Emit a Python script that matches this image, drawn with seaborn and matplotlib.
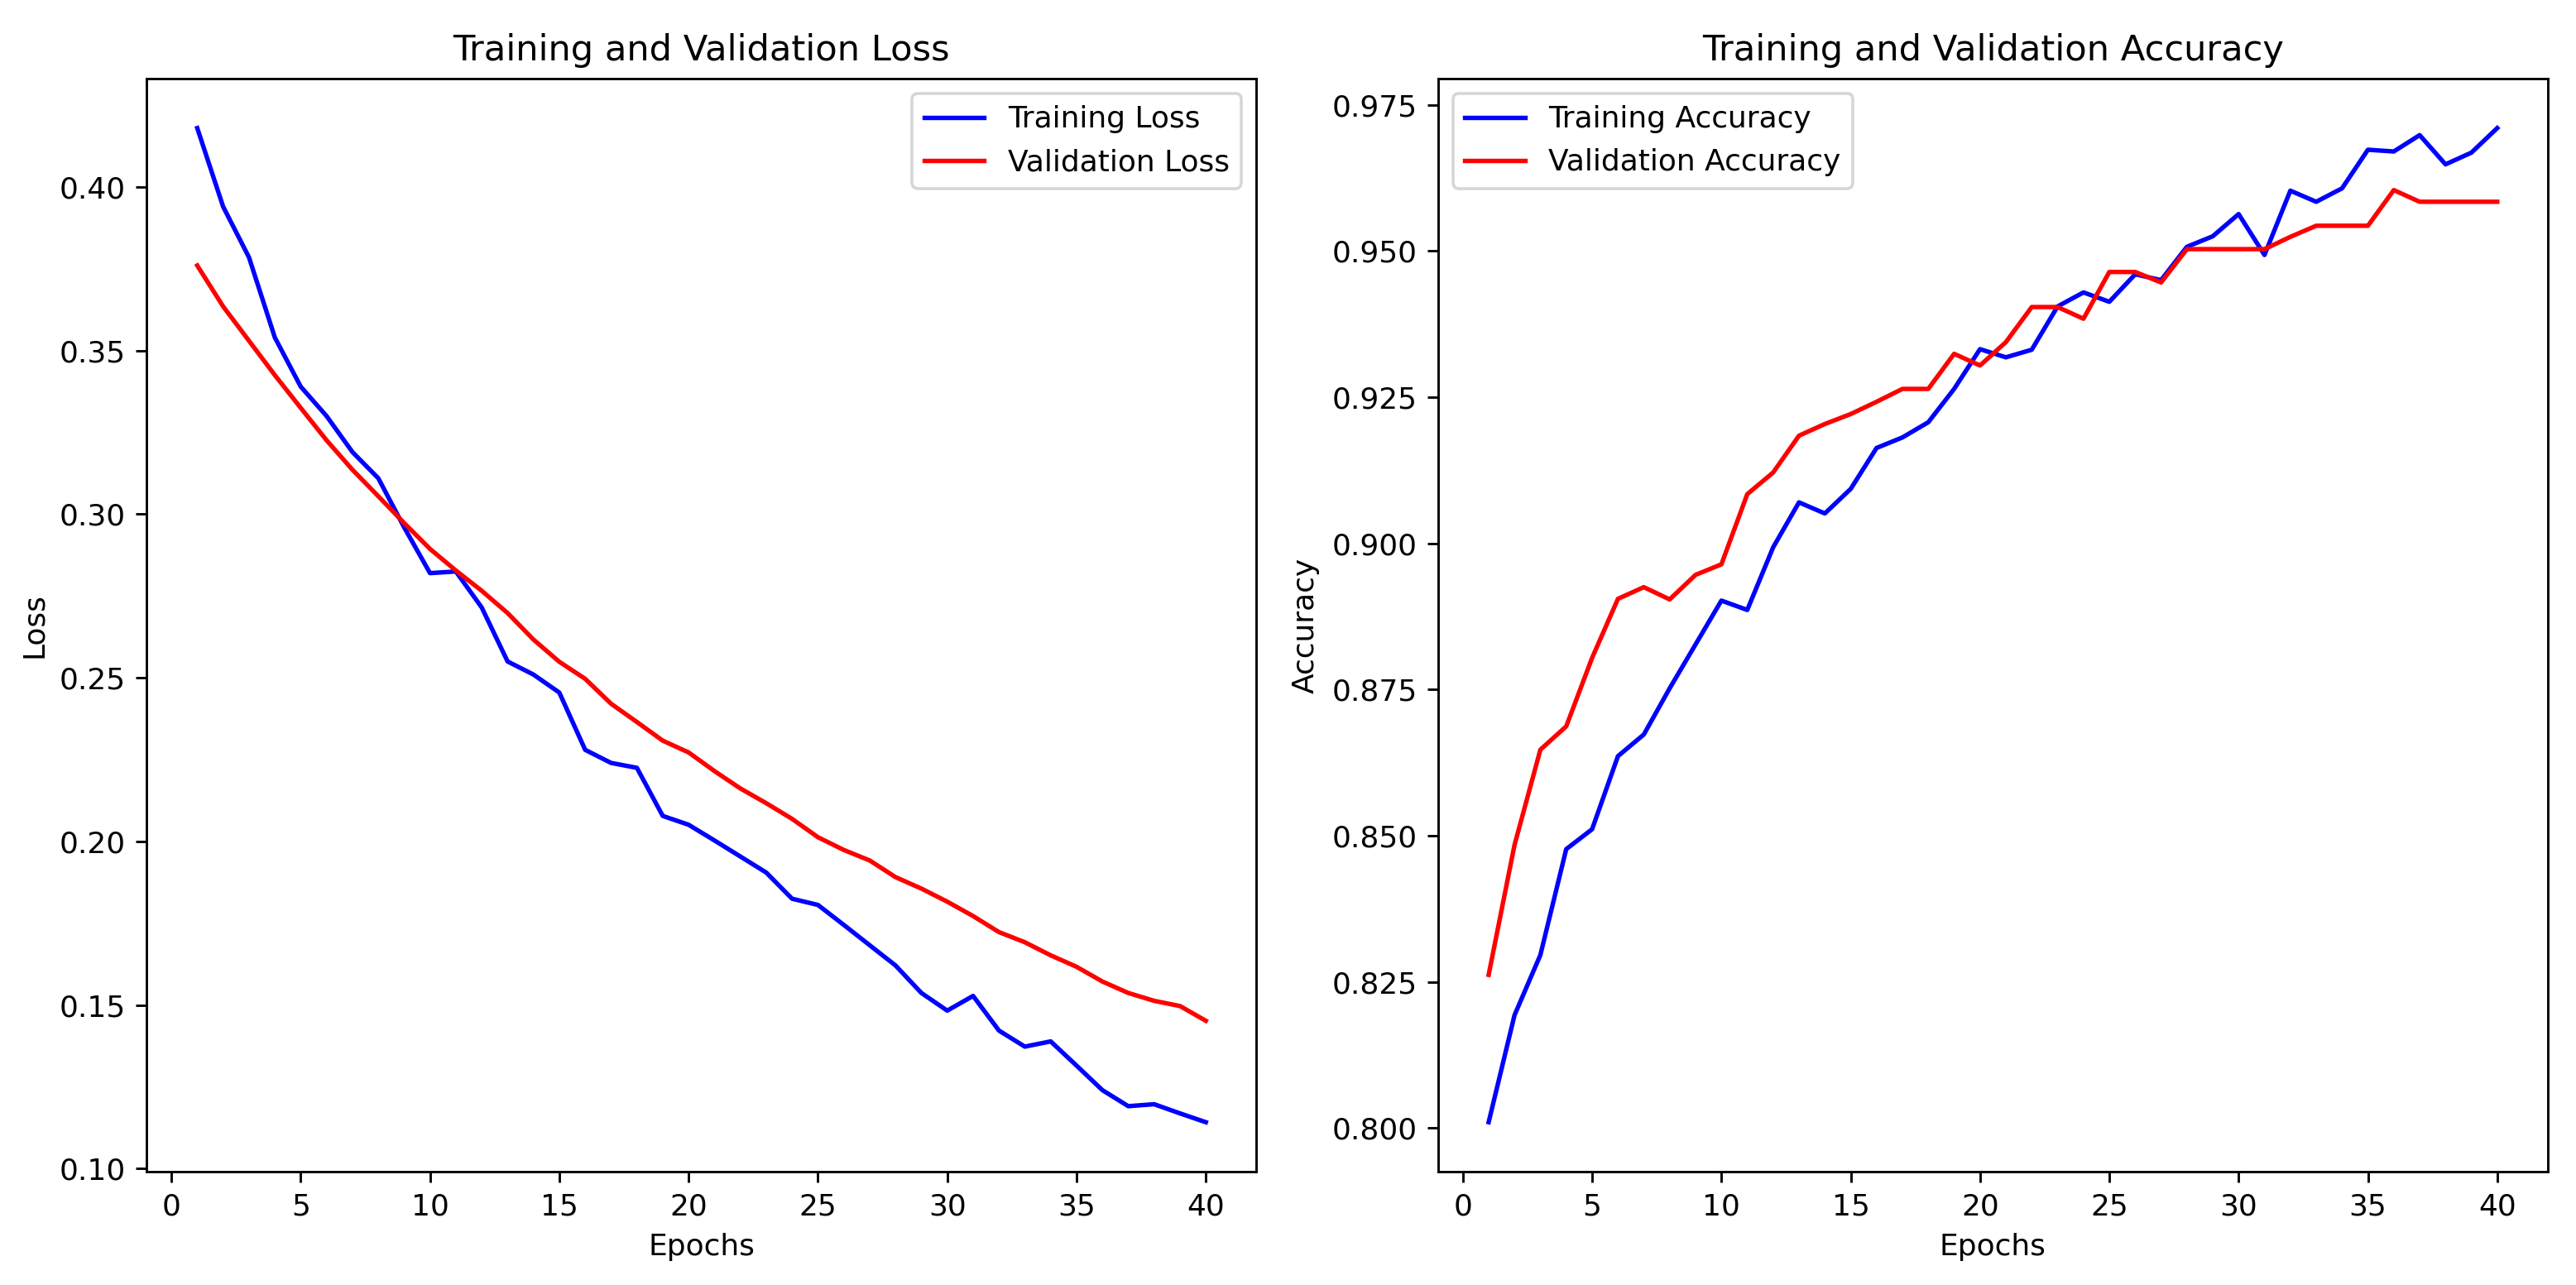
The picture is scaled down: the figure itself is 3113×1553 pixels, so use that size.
import matplotlib
matplotlib.use("Agg")
import matplotlib.pyplot as plt
import seaborn as sns
import pandas as pd

epochs = list(range(1, 41))

train_loss = [0.418, 0.394, 0.3785, 0.354, 0.339, 0.330, 0.319, 0.311, 0.296, 0.282,
              0.2825, 0.2715, 0.255, 0.251, 0.2455, 0.228, 0.224, 0.2225, 0.2078, 0.2051,
              0.2003, 0.1954, 0.1905, 0.1825, 0.1806, 0.1745, 0.1683, 0.1621, 0.1537, 0.1483,
              0.1528, 0.1422, 0.1373, 0.1389, 0.1315, 0.1240, 0.1191, 0.1197, 0.1169, 0.1142]

val_loss = [0.376, 0.3635, 0.353, 0.3425, 0.3325, 0.3226, 0.3136, 0.3055, 0.2973, 0.2894,
            0.2828, 0.2766, 0.2698, 0.2617, 0.2549, 0.2497, 0.2421, 0.2365, 0.2308, 0.2272,
            0.2215, 0.2162, 0.2117, 0.2069, 0.2013, 0.1974, 0.1942, 0.1891, 0.1856, 0.1816,
            0.1772, 0.1723, 0.1692, 0.1652, 0.1617, 0.1572, 0.1537, 0.1513, 0.1497, 0.1452]

train_acc = [0.801, 0.8193, 0.8296, 0.8477, 0.8511, 0.8636, 0.8673, 0.8752, 0.8827, 0.8902,
             0.8886, 0.8993, 0.9070, 0.9051, 0.9093, 0.9163, 0.9181, 0.9207, 0.9264, 0.9332,
             0.9318, 0.9331, 0.9405, 0.9429, 0.9413, 0.9460, 0.9450, 0.9507, 0.9525, 0.9563,
             0.9493, 0.9603, 0.9584, 0.9607, 0.9673, 0.9670, 0.9698, 0.9648, 0.9668, 0.9710]

val_acc = [0.8262, 0.8484, 0.8647, 0.8687, 0.8804, 0.8905, 0.8925, 0.8904, 0.8946, 0.8964,
           0.9084, 0.9121, 0.9184, 0.9204, 0.9221, 0.9242, 0.9264, 0.9264, 0.9324, 0.9304,
           0.9344, 0.9404, 0.9404, 0.9384, 0.9464, 0.9464, 0.9446, 0.9503, 0.9503, 0.9503,
           0.9503, 0.9524, 0.9543, 0.9543, 0.9543, 0.9604, 0.9584, 0.9584, 0.9584, 0.9584]

df = pd.DataFrame({
    "epoch": epochs,
    "train_loss": train_loss,
    "val_loss": val_loss,
    "train_acc": train_acc,
    "val_acc": val_acc,
})

dpi = 259.4
fig, axes = plt.subplots(1, 2, figsize=(3113 / dpi, 1553 / dpi))

# loss
ax = axes[0]
sns.lineplot(data=df, x="epoch", y="train_loss", color="blue", label="Training Loss", ax=ax)
sns.lineplot(data=df, x="epoch", y="val_loss", color="red", label="Validation Loss", ax=ax)
ax.set_title("Training and Validation Loss")
ax.set_xlabel("Epochs")
ax.set_ylabel("Loss")
ax.legend(loc="upper right")

# accuracy
ax = axes[1]
sns.lineplot(data=df, x="epoch", y="train_acc", color="blue", label="Training Accuracy", ax=ax)
sns.lineplot(data=df, x="epoch", y="val_acc", color="red", label="Validation Accuracy", ax=ax)
ax.set_title("Training and Validation Accuracy")
ax.set_xlabel("Epochs")
ax.set_ylabel("Accuracy")
ax.legend(loc="upper left")

fig.subplots_adjust(left=0.057, right=0.989, bottom=0.088, top=0.939, wspace=0.164)
plt.savefig("out.png", dpi=dpi)
